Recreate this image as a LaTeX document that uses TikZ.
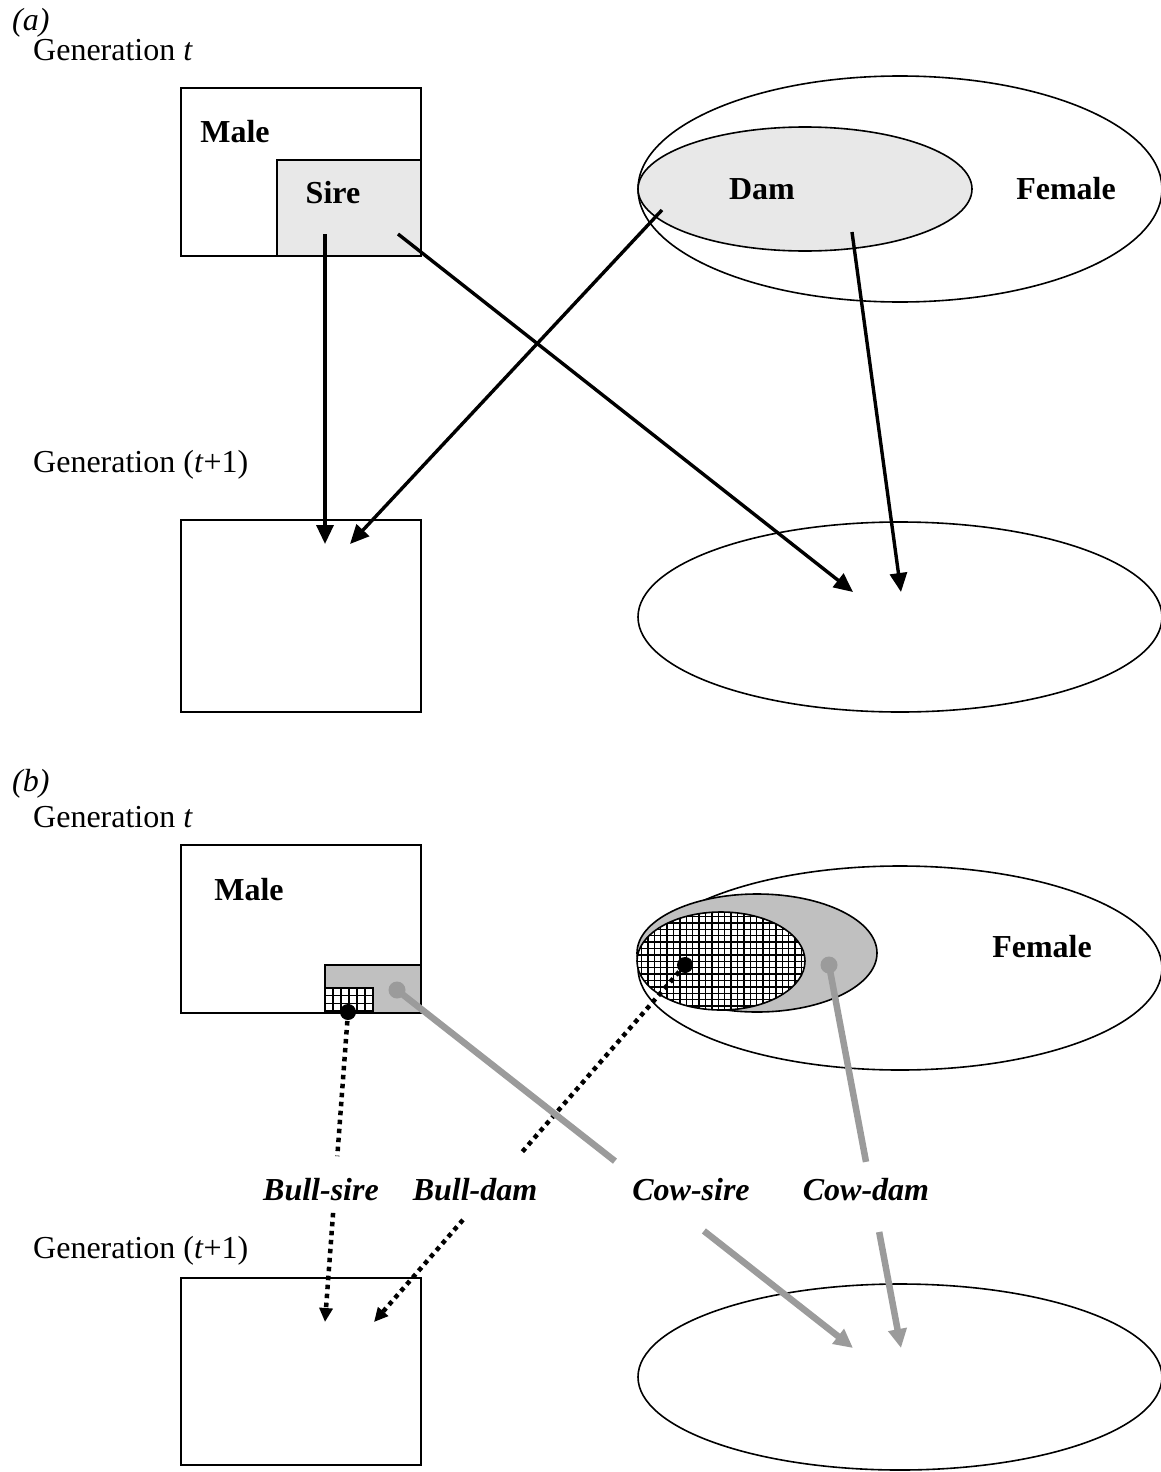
\documentclass[tikz,border=0pt]{standalone}
\usepackage{fontspec}
\setmainfont{Liberation Serif}
\usetikzlibrary{arrows.meta,calc}
\definecolor{lgray}{RGB}{232,232,232}
\definecolor{mgray}{RGB}{192,192,192}
\definecolor{lgrey}{RGB}{155,155,155}
\begin{document}
\begin{tikzpicture}[x=1pt,y=-1pt,
  txt/.style={font=\fontsize{32}{38}\selectfont, inner sep=0pt},
  btxt/.style={font=\fontsize{32}{38}\selectfont\bfseries, inner sep=0pt},
  bitxt/.style={font=\fontsize{32}{38}\selectfont\bfseries\itshape, inner sep=0pt},
  outline/.style={draw=black, line width=1.6pt},
  arr/.style={line width=3.4pt, -{Triangle[length=19pt,width=17pt]}},
  garr/.style={line width=6.5pt, draw=lgrey, -{Triangle[length=19pt,width=18pt]}},
  gline/.style={line width=6.5pt, draw=lgrey},
  dline/.style={line width=4.5pt, dash pattern=on 4.5pt off 4.5pt},
  darr/.style={line width=4.5pt, dash pattern=on 4.5pt off 4.5pt, -{Triangle[length=14pt,width=13pt]}},
  bdot/.style={circle, fill=black, minimum size=16pt, inner sep=0pt},
  gdot/.style={circle, fill=lgrey, minimum size=17pt, inner sep=0pt},
  gridln/.style={line width=1.4pt}
]
\useasboundingbox (0,0) rectangle (1160,1472);

% ---------------- (a) ----------------
\node[txt, anchor=base west] (ta) at (12,31) {\textit{(a)}};
\node[txt, anchor=base west] (gta) at (33,61) {Generation \textit{t}};
\node[txt, anchor=base west] (gt1a) at (33,472) {Generation (\textit{t}+1)};

\draw[outline] (181,88) rectangle (421,256);
\draw[outline, fill=lgray] (277,160) rectangle (421,256);
\draw[outline] (900,189) ellipse [x radius=262, y radius=113];
\draw[outline, fill=lgray] (805,189) ellipse [x radius=167, y radius=62];

\node[btxt] (maleA) at (235,132) {Male};
\node[btxt] (sireA) at (333,193) {Sire};
\node[btxt] (damA) at (762,189) {Dam};
\node[btxt] (femA) at (1066,189) {Female};

\draw[outline] (181,520) rectangle (421,712);
\draw[outline] (900,617) ellipse [x radius=262, y radius=95];

\coordinate (s1) at (325,234);
\coordinate (s2) at (398,234);
\coordinate (d1) at (662,210);
\coordinate (d2) at (852,232);
\coordinate (m1) at (325,544);
\coordinate (m2) at (350,544);
\coordinate (f1) at (853,592);
\coordinate (f2) at (901,592);

\draw[arr] (s1) -- (m1);
\draw[arr] (d1) -- (m2);
\draw[arr] (s2) -- (f1);
\draw[arr] (d2) -- (f2);

% ---------------- (b) ----------------
\node[txt, anchor=base west] (tb) at (12,791) {\textit{(b)}};
\node[txt, anchor=base west] (gtb) at (33,827) {Generation \textit{t}};
\node[txt, anchor=base west] (gt1b) at (33,1258) {Generation (\textit{t}+1)};

\draw[outline] (181,845) rectangle (421,1013);
\draw[outline, fill=mgray] (325,965) rectangle (421,1013);
\begin{scope}
  \clip (325,988) rectangle (373,1013);
  \fill[white] (325,988) rectangle (373,1013);
  \draw[gridln, xstep=8pt, ystep=7.7pt, shift={(325,988)}] (0,-2) grid (50,30);
\end{scope}
\draw[outline] (325,988) rectangle (373,1013);

\draw[outline] (900,968) ellipse [x radius=262, y radius=102];
\draw[outline, fill=mgray] (757,953) ellipse [x radius=120, y radius=59];
\begin{scope}
  \clip (721,961) ellipse [x radius=84, y radius=49];
  \fill[white] (721,961) ellipse [x radius=84, y radius=49];
  \draw[gridln, step=6.4pt, shift={(635,910)}] (0,-2) grid (175,105);
\end{scope}
\draw[outline] (721,961) ellipse [x radius=84, y radius=49];

\node[btxt] (maleB) at (249,890) {Male};
\node[btxt] (femB) at (1042,947) {Female};

\draw[outline] (181,1278) rectangle (421,1465);
\draw[outline] (900,1377) ellipse [x radius=262, y radius=93];

\node[bdot] (bsdot) at (348,1012) {};
\node[bdot] (bddot) at (685,965) {};
\node[gdot] (csdot) at (397,990) {};
\node[gdot] (cddot) at (829,965) {};

\coordinate (bsT) at (325,1322);
\coordinate (bdT) at (374,1322);
\coordinate (csT) at (853,1348);
\coordinate (cdT) at (901,1348);

\draw[dline] (bsdot.center) -- ($(bsdot.center)!0.465!(bsT)$);
\draw[darr] ($(bsdot.center)!0.648!(bsT)$) -- (bsT);
\draw[dline] (bddot.center) -- ($(bddot.center)!0.532!(bdT)$);
\draw[darr] ($(bddot.center)!0.714!(bdT)$) -- (bdT);
\draw[gline] (csdot.center) -- ($(csdot.center)!0.478!(csT)$);
\draw[garr] ($(csdot.center)!0.673!(csT)$) -- (csT);
\draw[gline] (cddot.center) -- ($(cddot.center)!0.514!(cdT)$);
\draw[garr] ($(cddot.center)!0.697!(cdT)$) -- (cdT);

\node[bitxt] (lbs) at (321,1190) {Bull-sire};
\node[bitxt] (lbd) at (475,1190) {Bull-dam};
\node[bitxt] (lcs) at (691,1190) {Cow-sire};
\node[bitxt] (lcd) at (866,1190) {Cow-dam};
\end{tikzpicture}
\end{document}
